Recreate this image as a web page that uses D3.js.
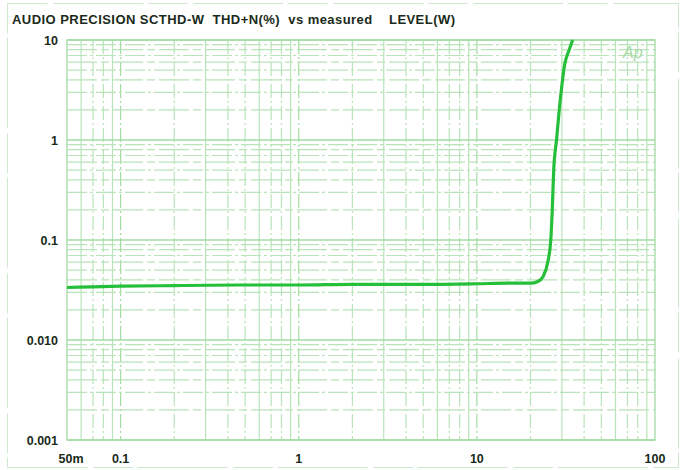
<!DOCTYPE html>
<html>
<head>
<meta charset="utf-8">
<script src="https://cdn.jsdelivr.net/npm/d3@7"></script>
<style>
  html, body { margin: 0; padding: 0; background: #fff; }
  svg { display: block; }
  text { font-family: "Liberation Sans", Arial, sans-serif; }
</style>
</head>
<body>
<svg id="chart" width="686" height="470"></svg>
<script>
// ---- data ----
const titleText = "AUDIO PRECISION SCTHD-W  THD+N(%)  vs measured    LEVEL(W)";
const levelW = [0.05, 0.07, 0.1, 0.2, 0.5, 1, 2, 5, 10, 15, 20, 22, 23.5, 25, 26, 26.5, 27, 28, 29, 30, 31, 33, 34.5];
const thdPct = [0.0335, 0.034, 0.0345, 0.035, 0.0355, 0.0355, 0.036, 0.036, 0.0365, 0.037, 0.037, 0.0385, 0.043, 0.06, 0.1, 0.2, 0.5, 1.0, 2.0, 3.5, 5.5, 8, 10];
const xTickValues = [0.05, 0.1, 1, 10, 100];
const xTickLabels = ["50m", "0.1", "1", "10", "100"];
const yTickValues = [10, 1, 0.1, 0.01, 0.001];
const yTickLabels = ["10", "1", "0.1", "0.010", "0.001"];

// ---- layout ----
const svg = d3.select("#chart");
const pL = 67, pR = 655, pT = 40, pB = 440;

const x = d3.scaleLog().domain([0.05, 100]).range([pL, pR]);
const y = d3.scaleLog().domain([0.001, 10]).range([pB, pT]);

// outer frame
svg.append("rect")
  .attr("x", 7.5).attr("y", 3.5).attr("width", 671).attr("height", 464)
  .attr("fill", "none").attr("stroke", "#cfe8cf").attr("stroke-width", 1)
  .attr("stroke-dasharray", "40,6,90,4");

// grid
const gridColor = "#b9e4b9";
const majorColor = "#a3dba3";
const xMinor = [];
for (let d = -2; d <= 1; d++) for (let m = 1; m <= 9; m++) {
  const v = m * Math.pow(10, d);
  if (v > 0.05 && v < 100) xMinor.push(v);
}
const yMinor = [];
for (let d = -3; d <= 0; d++) for (let m = 2; m <= 9; m++) yMinor.push(m * Math.pow(10, d));

const g = svg.append("g");
g.selectAll("line.xmin").data(xMinor).enter().append("line")
  .attr("x1", d => x(d)).attr("x2", d => x(d))
  .attr("y1", pT).attr("y2", pB)
  .attr("stroke", d => (Math.abs(Math.log10(d) - Math.round(Math.log10(d))) < 1e-9) ? majorColor : gridColor)
  .attr("stroke-width", 1.2)
  .attr("stroke-dasharray", (d, i) => i % 3 === 0 ? null : "14,3,2,3");
g.selectAll("line.ymin").data(yMinor).enter().append("line")
  .attr("x1", pL).attr("x2", pR)
  .attr("y1", d => y(d)).attr("y2", d => y(d))
  .attr("stroke", gridColor).attr("stroke-width", 1.2)
  .attr("stroke-dasharray", (d, i) => i % 2 === 0 ? "30,4,8,4" : "20,3,3,3");
g.selectAll("line.ymaj").data(yTickValues).enter().append("line")
  .attr("x1", pL).attr("x2", pR)
  .attr("y1", d => y(d)).attr("y2", d => y(d))
  .attr("stroke", majorColor).attr("stroke-width", 1.3);
// plot border
g.append("rect")
  .attr("x", pL).attr("y", pT).attr("width", pR - pL).attr("height", pB - pT)
  .attr("fill", "none").attr("stroke", majorColor).attr("stroke-width", 1.3);

// title
svg.append("text")
  .attr("x", 12).attr("y", 24)
  .attr("font-size", 13).attr("font-weight", "bold").attr("fill", "#1a2a1a")
  .attr("xml:space", "preserve").style("white-space", "pre")
  .attr("textLength", 443).attr("lengthAdjust", "spacing")
  .text(titleText);

// Ap logo
svg.append("text")
  .attr("x", 623).attr("y", 58)
  .attr("font-size", 16).attr("font-style", "italic").attr("fill", "#a9d9a9")
  .text("Ap");

// axes labels
svg.selectAll("text.ytick").data(yTickValues).enter().append("text")
  .attr("x", 58).attr("y", d => y(d) + 4.5)
  .attr("text-anchor", "end")
  .attr("font-size", 12.5).attr("font-weight", "bold").attr("fill", "#1a2a1a")
  .text((d, i) => yTickLabels[i]);

svg.selectAll("text.xtick").data(xTickValues).enter().append("text")
  .attr("x", (d, i) => i === 0 ? x(d) + 4 : x(d))
  .attr("y", 463)
  .attr("text-anchor", "middle")
  .attr("font-size", 12.5).attr("font-weight", "bold").attr("fill", "#1a2a1a")
  .text((d, i) => xTickLabels[i]);

// curve
const line = d3.line()
  .x((d, i) => x(levelW[i]))
  .y((d, i) => y(thdPct[i]))
  .curve(d3.curveMonotoneX);
svg.append("path")
  .datum(thdPct)
  .attr("d", line)
  .attr("fill", "none")
  .attr("stroke", "#25bf3a")
  .attr("stroke-width", 3.2)
  .attr("stroke-linejoin", "round");
</script>
</body>
</html>
